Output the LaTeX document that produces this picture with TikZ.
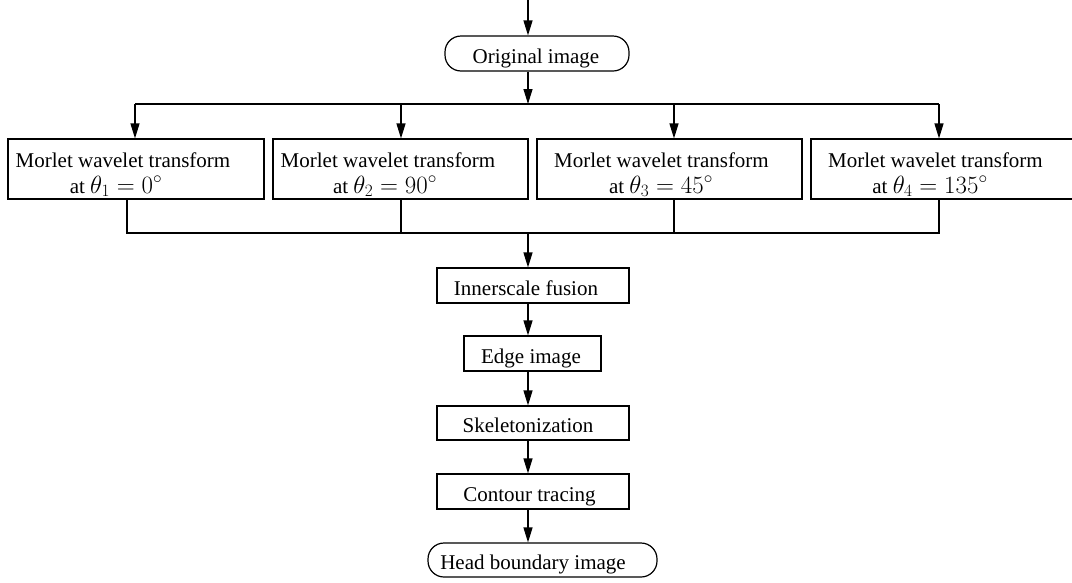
\documentclass[tikz,border=0pt]{standalone}
\usepackage[no-math]{fontspec}
\setmainfont{Liberation Serif}
\DeclareMathSizes{21}{24.88}{17.28}{12}
\usetikzlibrary{arrows.meta}
\tikzset{
  box/.style={draw, line width=1.2pt, inner sep=0pt, rectangle},
  term/.style={draw, line width=1.2pt, inner sep=0pt, rounded corners=16pt},
  lbl/.style={inner sep=0pt, anchor=base, font=\fontsize{21}{26}\selectfont},
  flow/.style={line width=1.2pt, -{Triangle[length=15pt,width=9pt]}},
  plain/.style={line width=1.2pt}
}
\begin{document}
\begin{tikzpicture}[x=1pt,y=-1pt]
\useasboundingbox (0,0) rectangle (1072,582);
% terminals and boxes
\node[term, minimum width=184pt, minimum height=35pt] (orig) at (537,53.5) {};
\node[lbl] (origt) at (536,63) {Original image};

\node[box, minimum width=256pt, minimum height=60pt] (b1) at (136,169) {};
\node[box, minimum width=255pt, minimum height=60pt] (b2) at (400.5,169) {};
\node[box, minimum width=265pt, minimum height=60pt] (b3) at (669.5,169) {};
\node[box, minimum width=262pt, minimum height=60pt] (b4) at (942,169) {};
\node[lbl] (b1a) at (123,167) {Morlet wavelet transform};
\node[lbl] (b1b) at (116,193) {at $\theta_1 = 0^\circ$};
\node[lbl] (b2a) at (388,167) {Morlet wavelet transform};
\node[lbl] (b2b) at (385,193) {at $\theta_2 = 90^\circ$};
\node[lbl] (b3a) at (661.5,167) {Morlet wavelet transform};
\node[lbl] (b3b) at (661,193) {at $\theta_3 = 45^\circ$};
\node[lbl] (b4a) at (935.5,167) {Morlet wavelet transform};
\node[lbl] (b4b) at (930,193) {at $\theta_4 = 135^\circ$};

\node[box, minimum width=192pt, minimum height=35pt] (inner) at (533,285.5) {};
\node[lbl] (innert) at (526,295) {Innerscale fusion};
\node[box, minimum width=137pt, minimum height=35pt] (edge) at (532.5,353.5) {};
\node[lbl] (edget) at (531,363) {Edge image};
\node[box, minimum width=192pt, minimum height=34pt] (skel) at (533,423) {};
\node[lbl] (skelt) at (528,432) {Skeletonization};
\node[box, minimum width=192pt, minimum height=35pt] (cont) at (533,491.5) {};
\node[lbl] (contt) at (529.5,501) {Contour tracing};
\node[term, minimum width=229pt, minimum height=34pt] (head) at (542.5,560) {};
\node[lbl] (headt) at (533,569) {Head boundary image};

% coordinates
\coordinate (top) at (528,0);
\coordinate (sc) at (528,104);
\coordinate (s1) at (135,104);
\coordinate (s2) at (401,104);
\coordinate (s3) at (674,104);
\coordinate (s4) at (939,104);
\coordinate (m1) at (127,233);
\coordinate (m2) at (401,233);
\coordinate (m3) at (674,233);
\coordinate (m4) at (939,233);
\coordinate (mc) at (528,233);

% connectors
\draw[flow] (top) -- (top |- orig.north);
\draw[flow] (orig.south -| sc) -- (sc);
\draw[plain] (s1) -- (s4);
\draw[flow] (s1) -- (s1 |- b1.north);
\draw[flow] (s2) -- (s2 |- b2.north);
\draw[flow] (s3) -- (s3 |- b3.north);
\draw[flow] (s4) -- (s4 |- b4.north);
\draw[plain] (b1.south -| m1) -- (m1) -- (m4) -- (b4.south -| m4);
\draw[plain] (b2.south -| m2) -- (m2);
\draw[plain] (b3.south -| m3) -- (m3);
\draw[flow] (mc) -- (mc |- inner.north);
\draw[flow] (inner.south -| mc) -- (edge.north -| mc);
\draw[flow] (edge.south -| mc) -- (skel.north -| mc);
\draw[flow] (skel.south -| mc) -- (cont.north -| mc);
\draw[flow] (cont.south -| mc) -- (head.north -| mc);
\end{tikzpicture}
\end{document}
